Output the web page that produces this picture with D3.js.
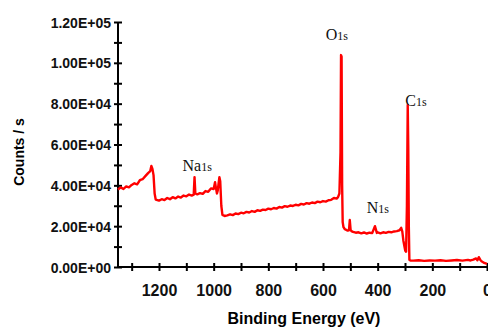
<!DOCTYPE html>
<html>
<head>
<meta charset="utf-8">
<script src="https://cdn.jsdelivr.net/npm/d3@7"></script>
<style>
  body { margin: 0; background: #fff; }
  .tick text { font-family: "Liberation Sans", Arial, sans-serif; font-weight: bold; fill: #111; }
</style>
</head>
<body>
<svg width="488" height="329"></svg>
<script>
// XPS survey spectrum
var energy = [1350,1340,1330,1320,1310,1300,1290,1280,1270,1260,1250,1240,1232,1228,1224,1220,1216,1212,
  1200,1190,1180,1170,1160,1150,1140,1130,1120,1110,1100,1090,1080,1073,1070,1067,1060,1050,1040,1030,1020,
  1010,1000,995,992,988,985,982,979,976,972,968,960,950,940,930,920,910,900,890,880,870,860,850,840,830,820,
  810,800,790,780,770,760,750,740,730,720,710,700,690,680,670,660,650,640,630,620,610,600,590,580,570,560,
  550,545,540,536,534,532,530,528,525,520,515,510,505,502,499,496,490,480,470,460,450,440,430,420,410,403,
  400,397,390,380,370,360,350,340,330,320,314,310,306,302,299,296,293,290,288,286,284,280,270,250,230,210,
  190,170,150,130,110,90,70,60,50,40,35,30,25,20,10,0];
var counts = [38000,39000,38200,39500,39000,40200,41000,40500,42500,43000,44500,46000,47000,49500,48000,45000,36000,33000,
  32500,33200,32800,33800,33200,34200,33600,34500,34000,35000,34600,35500,35000,35400,44000,36000,35600,36200,35800,37200,36800,
  38500,38200,41500,39000,36000,37500,41000,44000,42000,30000,25500,25000,25300,25800,25400,26200,25900,26600,26300,27000,26700,27400,27000,27800,27500,28100,
  27900,28600,28300,28900,28600,29400,29100,29800,29500,30100,29900,30500,30200,30900,30600,31300,31000,31600,31300,32000,31700,32300,32000,32700,32900,33800,
  33500,34200,36000,56000,103800,103000,40000,22000,19500,18500,18200,17800,18000,23000,18200,17600,17200,16800,17000,16500,16900,16400,16800,16600,20000,16700,
  17000,16800,16500,17000,16700,17200,17000,17400,17600,18000,19200,17500,13000,10000,8000,7500,30000,79400,58000,20000,3500,3200,3100,3300,3000,3200,
  3100,3300,3000,3200,3400,3100,3500,3200,3600,4200,3300,4800,3600,2800,2000,1500];

var yTickValues = [0,20000,40000,60000,80000,100000,120000];
var yTickLabels = ["0.00E+00","2.00E+04","4.00E+04","6.00E+04","8.00E+04","1.00E+05","1.20E+05"];
var yMinorValues = [10000,30000,50000,70000,90000,110000];
var xTickValues = [1300,1200,1100,1000,900,800,700,600,500,400,300,200,100,0];
var xTickLabels = ["1200","1000","800","600","400","200","0"];

// peak annotations: element, energy and count where label starts
var peakNames = ["Na","O","N","C"];
var peakLabelEnergy = [1114,590,440,299];
var peakLabelCounts = [47000,111200,26400,78900];

var svg = d3.select("svg");
var x = d3.scaleLinear().domain([1350, 0]).range([118, 487]);
var y = d3.scaleLinear().domain([0, 120000]).range([267, 22]);

// y axis
var yAxis = svg.append("g")
  .attr("transform", "translate(118,0)")
  .call(d3.axisLeft(y)
    .tickValues(yTickValues.concat(yMinorValues))
    .tickSizeOuter(0)
    .tickFormat(function (d) {
      var i = yTickValues.indexOf(d);
      return i < 0 ? "" : yTickLabels[i];
    }));
yAxis.select(".domain").attr("stroke", "#000").attr("stroke-width", 2).attr("d", "M0," + y(120000) + "V" + y(0));
yAxis.selectAll(".tick line").attr("x1", 4).attr("x2", -4).attr("stroke", "#000").attr("stroke-width", 2);
yAxis.selectAll(".tick text").attr("x", -7).attr("font-size", 14).attr("dy", "0.36em");

// x axis
var xAxis = svg.append("g")
  .attr("transform", "translate(0,267)")
  .call(d3.axisBottom(x)
    .tickValues(xTickValues)
    .tickSizeOuter(0)
    .tickFormat(function (d) {
      var i = xTickLabels.indexOf(String(d));
      return i < 0 ? "" : xTickLabels[i];
    }));
xAxis.select(".domain").attr("stroke", "#000").attr("stroke-width", 2).attr("d", "M118,0H487");
xAxis.selectAll(".tick line").attr("y1", -4).attr("y2", 4).attr("stroke", "#000").attr("stroke-width", 2);
xAxis.selectAll(".tick text").attr("y", 18).attr("font-size", 16).attr("dy", "0.71em");

// spectrum
var points = energy.map(function (e, i) { return [e, counts[i]]; });
svg.append("path")
  .datum(points)
  .attr("fill", "none")
  .attr("stroke", "#ff0000")
  .attr("stroke-width", 2.4)
  .attr("stroke-linejoin", "round")
  .attr("d", d3.line()
    .x(function (d) { return x(d[0]); })
    .y(function (d) { return y(d[1]); }));

// peak labels
peakNames.forEach(function (name, i) {
  var t = svg.append("text")
    .attr("x", x(peakLabelEnergy[i]))
    .attr("y", y(peakLabelCounts[i]))
    .attr("font-family", "'Liberation Serif', 'Times New Roman', serif")
    .attr("fill", "#111");
  t.append("tspan").attr("font-size", 16).text(name);
  t.append("tspan").attr("font-size", 12).text("1s");
});

// axis titles
svg.append("text")
  .attr("x", 304).attr("y", 324)
  .attr("text-anchor", "middle")
  .attr("font-family", "'Liberation Sans', Arial, sans-serif")
  .attr("font-weight", "bold").attr("font-size", 16)
  .text("Binding Energy (eV)");

svg.append("text")
  .attr("transform", "translate(24,152) rotate(-90)")
  .attr("text-anchor", "middle")
  .attr("font-family", "'Liberation Sans', Arial, sans-serif")
  .attr("font-weight", "bold").attr("font-size", 14)
  .text("Counts / s");
</script>
</body>
</html>
